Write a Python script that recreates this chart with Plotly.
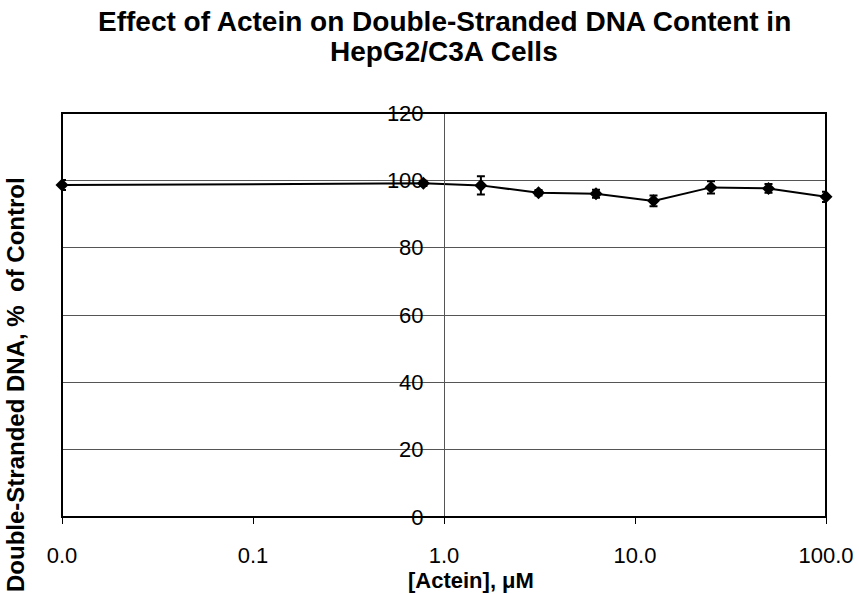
import plotly.graph_objects as go

# Actein concentration (µM); the control well is placed at the left end of the log axis
conc = [0.01, 0.78, 1.56, 3.125, 6.25, 12.5, 25, 50, 100]
dsdna_pct = [98.6, 99.1, 98.5, 96.3, 96.0, 93.9, 97.9, 97.6, 95.1]
dsdna_err = [1.5, 0.8, 2.7, 0.8, 1.2, 1.6, 1.8, 1.3, 1.5]

x_tickvals = [0.01, 0.1, 1, 10, 100]
x_ticktext = ["0.0", "0.1", "1.0", "10.0", "100.0"]
y_tickvals = [0, 20, 40, 60, 80, 100, 120]

title_lines = ["Effect of Actein on Double-Stranded DNA Content in", "HepG2/C3A Cells"]

FONT = "Liberation Sans, Arial, sans-serif"
PLOT_TOP, PLOT_BOTTOM, PLOT_LEFT, PLOT_W = 113, 517, 62, 764


def py(pix_y):
    return (PLOT_BOTTOM - pix_y) / (PLOT_BOTTOM - PLOT_TOP)


def px(pix_x):
    return (pix_x - PLOT_LEFT) / PLOT_W


fig = go.Figure()
fig.add_trace(go.Scatter(
    x=conc, y=dsdna_pct,
    mode="lines+markers",
    line=dict(color="black", width=2),
    marker=dict(symbol="diamond", size=10, color="black"),
    error_y=dict(type="data", array=dsdna_err, visible=True,
                 color="black", thickness=2, width=4),
    showlegend=False,
    cliponaxis=False,
))

# plot-area frame
fig.add_shape(type="rect", xref="x domain", yref="y domain",
              x0=0, x1=1, y0=0, y1=1,
              line=dict(color="black", width=2), layer="above")

annotations = [
    dict(text=title_lines[0], xref="paper", yref="paper", x=px(444), y=py(21),
         xanchor="center", yanchor="middle", showarrow=False,
         font=dict(family=FONT, size=28, weight="bold", color="black")),
    dict(text=title_lines[1], xref="paper", yref="paper", x=px(444), y=py(51),
         xanchor="center", yanchor="middle", showarrow=False,
         font=dict(family=FONT, size=28, weight="bold", color="black")),
    dict(text="Double-Stranded DNA, %  of Control",
         xref="paper", yref="paper", x=px(15), y=py(385),
         xanchor="center", yanchor="middle", textangle=-90, showarrow=False,
         font=dict(family=FONT, size=24, weight="bold", color="black")),
    dict(text="[Actein], μM",
         xref="paper", yref="paper", x=px(471), y=py(580),
         xanchor="center", yanchor="middle", showarrow=False,
         font=dict(family=FONT, size=22, weight="bold", color="black")),
]

fig.update_layout(
    width=859, height=594,
    margin=dict(l=62, r=33, t=113, b=77, autoexpand=False),
    paper_bgcolor="white", plot_bgcolor="white",
    font=dict(family=FONT, color="black"),
    xaxis=dict(
        type="log", range=[-2, 2],
        tickvals=x_tickvals, ticktext=x_ticktext,
        ticks="outside", ticklen=6, tickwidth=1, tickcolor="black",
        tickfont=dict(size=22, family=FONT),
        ticklabelstandoff=13,
        showgrid=False, zeroline=False,
        showline=False, automargin=False,
    ),
    yaxis=dict(
        range=[0, 120],
        tickvals=y_tickvals,
        anchor="free", position=0.5,
        showline=True, linecolor="#555555", linewidth=1,
        showgrid=True, gridcolor="#555555", gridwidth=1,
        ticks="", tickfont=dict(size=22, family=FONT),
        ticklabelstandoff=16,
        zeroline=False, automargin=False,
    ),
    annotations=annotations,
)

fig.write_html("out.html")
